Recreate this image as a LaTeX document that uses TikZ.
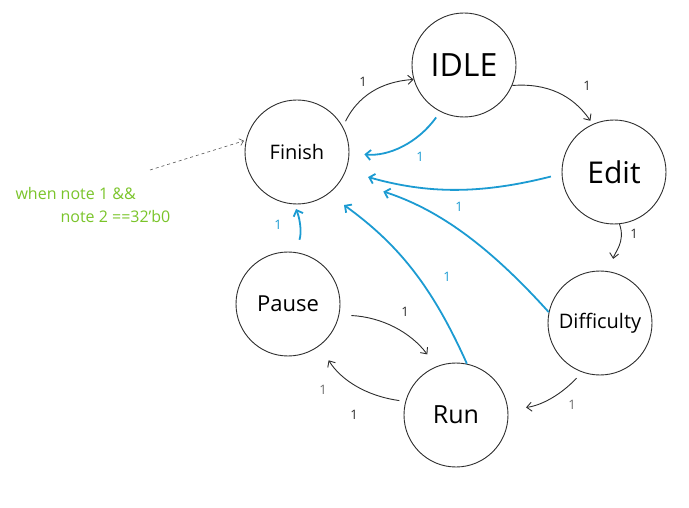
\documentclass[tikz,border=0pt]{standalone}
\usepackage{fontspec}
\setmainfont{Open Sans}
\usetikzlibrary{arrows.meta, positioning}

\definecolor{penblue}{RGB}{28,155,210}
\definecolor{pengreen}{RGB}{122,196,42}
\definecolor{penink}{RGB}{45,45,45}

\begin{document}
\begin{tikzpicture}[
  x=1pt, y=-1pt,
  every node/.style = {font=\small},
  state/.style = {
    circle,
    draw=penink,
    line width=0.9pt,
    minimum size=104pt,
    inner sep=0pt
  },
  flow/.style = {
    -{Straight Barb[length=5pt, width=9pt]},
    penink,
    line width=0.9pt
  },
  back/.style = {
    -{Straight Barb[length=5pt, width=10pt]},
    penblue,
    line width=1.8pt
  },
  hint/.style = {
    -{Straight Barb[length=4pt, width=7pt]},
    penink!80,
    dashed,
    line width=0.6pt
  },
  lbl/.style = {font=\fontsize{13}{13}\selectfont, text=penink},
  blbl/.style = {font=\fontsize{13}{13}\selectfont, text=penblue}
]

\useasboundingbox (0,0) rectangle (689,508);

% states
\node[state, font=\fontsize{32}{32}\selectfont] (idle) at (464,65) {IDLE};
\node[state, font=\fontsize{20}{20}\selectfont] (finish) at (297,152) {Finish};
\node[state, font=\fontsize{30}{30}\selectfont] (edit) at (614,172) {Edit};
\node[state, font=\fontsize{22}{22}\selectfont] (pause) at (288,304) {Pause};
\node[state, font=\fontsize{20}{20}\selectfont] (diff) at (600,323) {Difficulty};
\node[state, font=\fontsize{25}{25}\selectfont] (run) at (456,415) {Run};

% forward transitions
\draw[flow, shorten <=6pt] (finish.29) to[bend left=30] (idle.196);
\draw[flow, shorten >=4pt] (idle.-23) to[bend left=30] (edit.114);
\draw[flow, shorten >=13pt] (edit.-84) to[out=-70, in=80] (diff.78);
\draw[flow, shorten <=8pt, shorten >=18pt] (diff.-110) to[bend left=20] (run.6);
\draw[flow, shorten <=6pt, shorten >=17pt] (run.165) to[bend left=25] (pause.-53);
\draw[flow, shorten <=12pt, shorten >=15pt] (pause.-12) to[bend left=25] (run.112);

% back to finish
\draw[back, shorten <=13pt, shorten >=5pt] (pause.82) to[bend right=20] (finish.-93);
\draw[back, shorten >=19pt] (run.78) to[bend right=15] (finish.-53.5);
\draw[back, shorten >=43pt] (diff.168) to[bend right=15] (finish.-30);
\draw[back, shorten <=11pt, shorten >=23pt] (edit.182) to[bend left=15] (finish.-21.5);
\draw[back, shorten <=7pt, shorten >=15pt] (idle.-117) to[bend left=30] (finish.-1);

% labels
\node[lbl] (l1) at (363,82) {1};
\node[lbl] (l2) at (587,86) {1};
\node[lbl] (l3) at (634,234) {1};
\node[lbl, text=penink!70] (l4) at (572,405) {1};
\node[lbl, text=penink!70] (l5) at (323,390) {1};
\node[lbl] (l6) at (354,415) {1};
\node[lbl] (l7) at (405,312) {1};
\node[blbl] (l8) at (420,157) {1};
\node[blbl] (l9) at (459,207) {1};
\node[blbl] (l10) at (447,277) {1};
\node[blbl] (l11) at (278,225) {1};

% guard note
\node[anchor=north west, align=left, text=pengreen,
      font=\fontsize{16}{23}\selectfont] (guard) at (12,184)
  {when note 1 \&\&\\ \hspace*{45pt}note 2 ==32'b0};
\coordinate (tail) at (150,170);
\draw[hint, shorten >=2pt] (tail) -- (finish.167.5);

\end{tikzpicture}
\end{document}
